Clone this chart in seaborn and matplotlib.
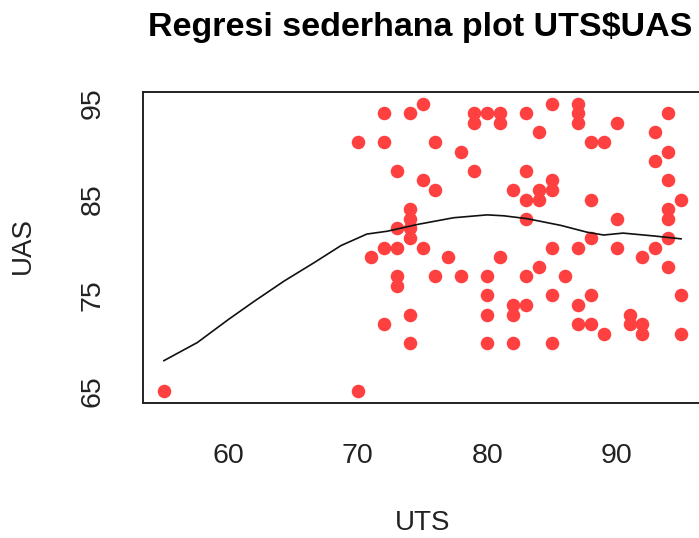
import matplotlib
matplotlib.use("Agg")
import matplotlib.pyplot as plt
import numpy as np
import pandas as pd
import seaborn as sns

# scores, grouped by UTS value
uts_values = [55, 70, 71, 72, 73, 74, 75, 76, 77, 78, 79, 80, 81, 82,
              83, 84, 85, 86, 87, 88, 89, 90, 91, 92, 93, 94, 95]
uas_groups = [
    [65],
    [91, 65],
    [79],
    [94, 91, 80, 72],
    [88, 82, 80, 77, 76],
    [94, 84, 83, 82, 81, 73, 70],
    [95, 87, 80],
    [91, 86, 77],
    [79],
    [90, 77],
    [94, 93, 88],
    [94, 77, 75, 73, 70],
    [94, 93, 79],
    [86, 74, 73, 70],
    [94, 88, 85, 83, 77, 74],
    [92, 86, 85, 78],
    [95, 87, 86, 80, 75, 70],
    [77],
    [95, 94, 93, 80, 74, 72],
    [91, 85, 81, 75, 72],
    [91, 71],
    [93, 83, 80],
    [73, 72],
    [79, 72, 71],
    [92, 89, 80],
    [94, 90, 87, 84, 83, 81, 78],
    [85, 75, 71],
]

# smoothed curve
smooth_x = [55, 57.6, 60, 62, 64.3, 66.6, 68.7, 70.7, 72.3, 74.6,
            77.4, 80, 81.3, 83.1, 85.7, 87.7, 89, 90.5, 92.9, 95]
smooth_y = [68.2, 70.1, 72.5, 74.4, 76.5, 78.4, 80.2, 81.4, 81.7, 82.4,
            83.1, 83.4, 83.3, 83.0, 82.3, 81.6, 81.3, 81.5, 81.2, 80.9]

rows = [(u, a) for u, group in zip(uts_values, uas_groups) for a in group]
df = pd.DataFrame(rows, columns=["UTS", "UAS"])
curve = pd.DataFrame({"UTS": smooth_x, "UAS": smooth_y})

sns.set_theme(style="white")
plt.rcParams["font.family"] = ["Liberation Sans", "DejaVu Sans"]

W, H = 699, 538
fig = plt.figure(figsize=(W / 100, H / 100), dpi=100)
left, right, top, bottom = 143, 702, 92, 403
ax = fig.add_axes([left / W, 1 - bottom / H, (right - left) / W, (bottom - top) / H])

sns.scatterplot(data=df, x="UTS", y="UAS", ax=ax, color="#FF4040",
                s=95, linewidth=0, alpha=1, zorder=3)
sns.lineplot(data=curve, x="UTS", y="UAS", ax=ax, color="#111111",
             linewidth=1.2, sort=False, zorder=4)

ax.set_xlim(53.4, 96.6)
ax.set_ylim(63.8, 96.2)

for s in ax.spines.values():
    s.set_visible(True)
    s.set_color("#222222")
    s.set_linewidth(1.4)

ax.set_xticks([60, 70, 80, 90])
ax.set_xticklabels(["60", "70", "80", "90"])
ax.set_yticks([65, 70, 75, 80, 85, 90, 95])
ax.set_yticklabels(["65", "", "75", "", "85", "", "95"], rotation=90, va="center")
ax.tick_params(axis="both", direction="out", length=12, width=1.4,
               color="#222222", labelsize=20.5, labelcolor="#222222")
ax.tick_params(axis="x", pad=16.5)
ax.tick_params(axis="y", pad=15)
ax.set_xlabel("")
ax.set_ylabel("")

fig.text(((left + right) / 2) / W, 1 - 523 / H, "UTS", ha="center", va="center",
         fontsize=20, color="#222222")
fig.text(23 / W, 1 - 246 / H, "UAS", ha="center", va="center", rotation=90,
         fontsize=20, color="#222222")
fig.text(420 / W, 1 - 36 / H, "Regresi sederhana plot UTS$UAS",
         ha="center", va="baseline", fontsize=24.5, fontweight="bold", color="black",
         parse_math=False)

fig.savefig("out.png", dpi=100, facecolor="white")
